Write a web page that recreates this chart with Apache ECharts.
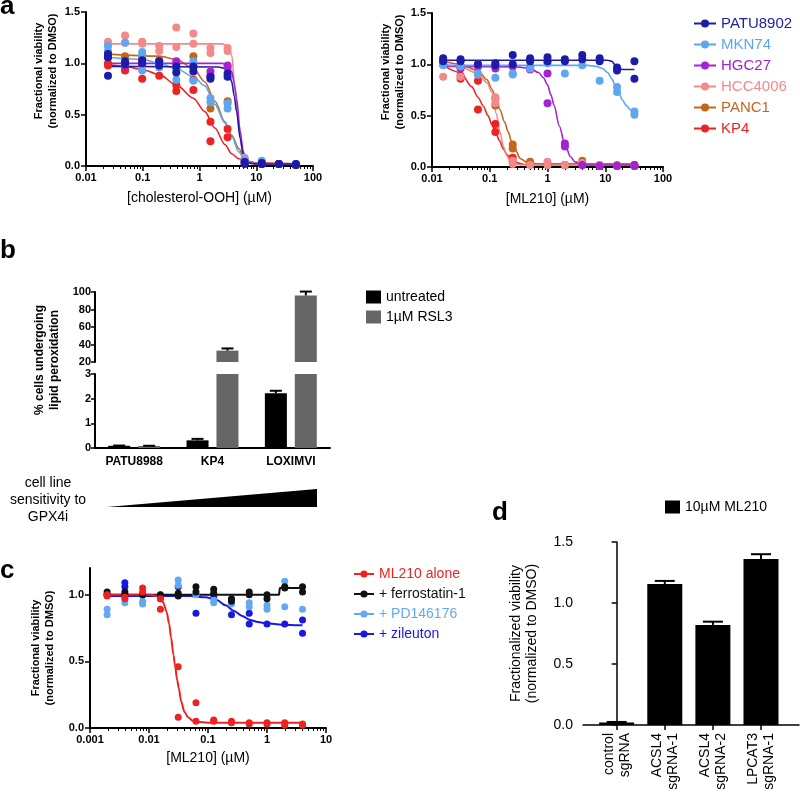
<!DOCTYPE html>
<html><head><meta charset="utf-8">
<script src="https://cdn.jsdelivr.net/npm/echarts@6/dist/echarts.min.js"></script>
<style>html,body{margin:0;padding:0;background:#fff}#c{width:800px;height:795px}</style>
</head><body><div id="c"></div>
<script>
// ---------------- DATA ----------------
const cellLines = ['PATU8902','MKN74','HGC27','HCC4006','PANC1','KP4'];
const cholDoses = [0.0244,0.0488,0.0977,0.195,0.39,0.78,1.56,3.125,6.25,12.5,25,50];
const mlDoses = [0.0156,0.03125,0.0625,0.125,0.25,0.5,1,2,4,8,16,32];
const cDoses = [0.00195,0.0039,0.0078,0.0156,0.03125,0.0625,0.125,0.25,0.5,1,2,4];

// panel a, cholesterol-OOH: replicate values per dose
const cholPATU8902 = [[1.09,1.06,0.88],[1.02,0.99],[1.03,1.0],[1.02,0.98],[0.97,0.91],[0.97,0.92],[0.87,0.85],[0.90,0.87],[0.04,0.02],[0.03,0.02],[0.02,0.02],[0.02,0.01]];
const cholMKN74 = [[1.17,1.12],[1.20,1.0],[1.11,1.08,0.93],[1.02,0.96],[0.95,0.84],[1.02,0.83],[0.66,0.62],[0.61,0.56],[0.06,0.03],[0.05,0.03],[0.02],[0.02]];
const cholHGC27 = [[1.10,1.06],[1.0,0.98],[1.0,0.99],[1.0],[1.02,0.99],[0.97,0.96],[0.92,0.88],[0.98,0.96],[0.05,0.03],[0.02],[0.02],[0.01]];
const cholHCC4006 = [[1.21,1.18],[1.27,1.20],[1.21,1.19],[1.17,1.12],[1.35,1.16],[1.29,1.19],[1.15,1.10],[1.15,1.12],[0.08,0.05],[0.03],[0.02],[0.02]];
const cholPANC1 = [[1.08],[1.07],[1.05],[1.03],[0.95],[1.07],[0.56],[0.63],[0.05],[0.02],[0.02],[0.01]];
const cholKP4 = [[1.00,0.98],[0.94,0.93],[0.85],[0.88],[0.79,0.73],[0.84,0.74],[0.43,0.24],[0.36,0.28],[0.03],[0.02],[0.02],[0.01]];

const cholFitPATU8902 = [[0.0244,0.97],[2.2,0.965],[2.8,0.95],[3.3,0.9],[3.7,0.82],[4.1,0.68],[4.5,0.53],[5.2,0.27],[5.9,0.11],[6.6,0.05],[7.5,0.03],[10,0.02],[50,0.02]];
const cholFitMKN74 = [[0.0244,1.06],[0.1,1.04],[0.195,1.0],[0.39,0.95],[0.78,0.87],[1.24,0.78],[1.87,0.6],[2.8,0.42],[3.7,0.29],[4.9,0.14],[6.25,0.06],[8,0.025],[12,0.02],[50,0.02]];
const cholFitHGC27 = [[0.0244,1.0],[2.5,1.0],[3.2,0.98],[3.7,0.92],[4.1,0.8],[4.5,0.66],[5.2,0.34],[5.9,0.14],[6.6,0.06],[7.5,0.03],[10,0.02],[50,0.02]];
const cholFitHCC4006 = [[0.0244,1.19],[2.5,1.19],[3.1,1.17],[3.7,1.08],[4.2,0.76],[4.9,0.43],[5.6,0.17],[6.25,0.08],[7.2,0.04],[9,0.025],[50,0.02]];
const cholFitPANC1 = [[0.0244,1.09],[0.195,1.07],[0.39,1.04],[0.78,0.95],[1.24,0.82],[1.87,0.63],[2.8,0.43],[3.7,0.30],[4.9,0.17],[6.25,0.08],[7.5,0.045],[9.5,0.03],[14,0.02],[50,0.02]];
const cholFitKP4 = [[0.0244,0.99],[0.0488,0.97],[0.0977,0.94],[0.195,0.89],[0.39,0.79],[0.78,0.66],[1.24,0.53],[1.87,0.37],[2.8,0.21],[3.7,0.12],[4.9,0.07],[7.2,0.04],[10,0.03],[50,0.02]];

// panel a, ML210
const mlPATU8902 = [[1.06,1.03],[1.05,1.03],[1.00],[1.01,0.99],[1.09,1.00],[1.06,1.03],[1.07,1.03],[1.05,1.03],[1.09,1.05],[1.06,1.03],[0.97,0.94],[1.03,0.86]];
const mlMKN74 = [[1.00,0.99],[0.98],[0.91,0.90],[0.87],[0.91,0.90],[0.96],[1.01],[0.91],[0.99],[0.84],[0.78,0.73],[0.54,0.51]];
const mlHGC27 = [[1.00],[0.96],[0.98],[0.96],[0.98],[0.97,0.95],[0.91,0.62],[0.23,0.20],[0.02],[0.01],[0.01],[0.02,0.01]];
const mlHCC4006 = [[0.88],[0.88],[0.90],[0.68,0.62],[0.06,0.03],[0.02],[0.05,0.02],[0.02],[0.04],[0.02],[0.01],[0.01]];
const mlPANC1 = [[1.02],[0.97],[1.00],[0.67,0.60],[0.22,0.18],[0.05],[0.03],[0.02],[0.06],[0.02],[0.02],[0.02]];
const mlKP4 = [[1.00],[0.89,0.86],[0.84,0.56],[0.42,0.34],[0.09,0.05],[0.03],[0.02],[0.02],[0.02],[0.01],[0.01],[0.01]];

const mlFitPATU8902 = [[0.0156,1.04],[11,1.04],[13,1.03],[14.5,1.0],[16,0.97],[18,0.955],[21,0.95],[32,0.95]];
const mlFitMKN74 = [[0.0156,0.99],[5,0.99],[7,0.98],[9,0.96],[11,0.92],[13,0.86],[15,0.79],[17,0.73],[20,0.65],[23,0.6],[27,0.56],[32,0.535]];
const mlFitHGC27 = [[0.0156,0.98],[0.3,0.975],[0.5,0.96],[0.7,0.92],[0.85,0.87],[1,0.8],[1.15,0.7],[1.3,0.6],[1.6,0.4],[2,0.22],[2.5,0.1],[3,0.05],[4,0.025],[6,0.02],[32,0.02]];
const mlFitHCC4006 = [[0.0156,1.0],[0.03,0.98],[0.0625,0.91],[0.09,0.82],[0.108,0.73],[0.13,0.52],[0.15,0.34],[0.175,0.19],[0.197,0.11],[0.23,0.05],[0.27,0.03],[0.35,0.02],[32,0.02]];
const mlFitPANC1 = [[0.0156,1.03],[0.031,1.0],[0.0625,0.94],[0.09,0.85],[0.108,0.76],[0.13,0.66],[0.15,0.56],[0.18,0.44],[0.21,0.34],[0.24,0.24],[0.27,0.18],[0.34,0.08],[0.46,0.04],[0.7,0.03],[32,0.03]];
const mlFitKP4 = [[0.0156,0.99],[0.031,0.92],[0.049,0.78],[0.0625,0.68],[0.078,0.59],[0.093,0.5],[0.11,0.41],[0.125,0.34],[0.15,0.25],[0.17,0.18],[0.2,0.12],[0.24,0.07],[0.3,0.04],[0.4,0.025],[0.6,0.02],[32,0.02]];

// panel b
const bCategories = ['PATU8988','KP4','LOXIMVI'];
const bUntreated = [0.09, 0.31, 2.22];
const bUntreatedErr = [0.01, 0.06, 0.1];
const bRSL3 = [0.08, 33, 96];
const bRSL3Err = [0.01, 2.5, 4.5];
const bTopTicks = ['20','40','60','80','100'];
const bBottomTicks = ['0','1','2','3'];

// panel c
const cSeriesNames = ['ML210 alone','+ ferrostatin-1','+ PD146176','+ zileuton'];
const cML210 = [[1.0,0.99],[0.98,0.97],[1.05,1.02],[0.97,0.89],[0.46,0.08],[0.19,0.05],[0.06,0.05],[0.05,0.04],[0.04,0.03],[0.04,0.03],[0.04,0.02],[0.03,0.02]];
const cFerro = [[1.02,1.0],[1.02,1.0],[1.0],[1.0],[1.01,0.99],[1.06,1.02],[1.04,1.01],[0.97,0.95],[1.02,1.0],[1.0,0.97],[1.06,1.05],[1.06,1.02]];
const cPD = [[0.89,0.85],[0.94],[0.95,0.93],[1.0],[1.11,1.07],[1.0],[0.96,0.94],[0.93],[0.94,0.91],[0.92,0.89],[1.1,0.91],[0.89]];
const cZileuton = [[1.0],[1.09,1.06],[1.0],[0.97],[1.06],[0.86],[0.98],[0.85],[0.86,0.78],[0.78],[0.78],[0.81,0.71]];
const cFitML210 = [[0.00195,1.0],[0.0104,1.0],[0.0135,0.99],[0.0153,0.98],[0.0175,0.94],[0.0199,0.87],[0.022,0.78],[0.0236,0.68],[0.026,0.55],[0.0276,0.47],[0.03,0.36],[0.032,0.3],[0.035,0.2],[0.04,0.12],[0.046,0.08],[0.055,0.055],[0.07,0.045],[0.1,0.04],[4,0.04]];
const cFitFerro = [[0.00195,1.0],[1.6,1.0],[1.65,1.05],[4,1.05]];
const cFitZileuton = [[0.00195,0.99],[0.05,0.99],[0.09,0.98],[0.14,0.96],[0.2,0.92],[0.27,0.88],[0.38,0.84],[0.52,0.81],[0.7,0.795],[1,0.785],[1.8,0.775],[4,0.77]];

// panel d
const dCategories = ['control\nsgRNA','ACSL4\nsgRNA-1','ACSL4\nsgRNA-2','LPCAT3\nsgRNA-1'];
const dValues = [0.02, 1.156, 0.82, 1.36];
const dErr = [0.005, 0.025, 0.027, 0.04];

// tick labels
const aTickLabels = ['0.01','0.1','1','10','100'];
const cTickLabels = ['0.001','0.01','0.1','1','10'];
const viabTicks = ['0.0','0.5','1.0','1.5'];

// ---------------- STYLE ----------------
const FONT = "'Liberation Sans', Arial, sans-serif";
const lineColors = ['#1c1ca8','#5ea7ee','#a322d2','#f28a8a','#c4661a','#ee2222'];
const cColors = ['#ee2222','#111111','#63a8f0','#1818e0'];

const chart = echarts.init(document.getElementById('c'), null, {renderer:'canvas'});

function pts(doses, reps) {
  const out = [];
  reps.forEach((vals, i) => vals.forEach(v => out.push([doses[i], v])));
  return out;
}
function logXAxis(grid, min, max, labels, name, nameGap) {
  return {
    type:'log', gridIndex:grid, min:min, max:max, logBase:10,
    axisLine:{show:true, lineStyle:{color:'#000', width:2}},
    axisTick:{show:true, length:5, lineStyle:{color:'#000', width:1.5}},
    minorTick:{show:true, splitNumber:9, length:3, lineStyle:{color:'#000', width:1}},
    axisLabel:{color:'#000', fontSize:11, fontWeight:'bold', fontFamily:FONT, margin:6,
      formatter:(v) => labels[Math.round(Math.log10(v) - Math.log10(min))]},
    splitLine:{show:false},
    name:name, nameLocation:'middle', nameGap:nameGap,
    nameTextStyle:{color:'#000', fontSize:14, fontFamily:FONT}
  };
}
function viabYAxis(grid, nameGap, shiftPad) {
  return {
    type:'value', gridIndex:grid, min:0, max:1.5, interval:0.5,
    axisLine:{show:true, lineStyle:{color:'#000', width:2}},
    axisTick:{show:true, length:5, lineStyle:{color:'#000', width:1.5}},
    axisLabel:{color:'#000', fontSize:11, fontWeight:'bold', fontFamily:FONT, margin:6,
      formatter:(v, i) => viabTicks[Math.round(v / 0.5)]},
    splitLine:{show:false},
    name:'Fractional viability\n(normalized to DMSO)', nameLocation:'middle', nameGap:nameGap,
    nameTextStyle:{color:'#000', fontSize:11, fontWeight:'bold', fontFamily:FONT, lineHeight:14, padding:[0,0,0,shiftPad]}
  };
}
function errRender(offset, capHalf) {
  return function(params, api) {
    const x0 = api.value(0), v = api.value(1), e = api.value(2);
    const c0 = api.coord([x0, v]);
    const c1 = api.coord([x0, v + e]);
    const x = c0[0] + offset;
    return {type:'group', children:[
      {type:'line', shape:{x1:x, y1:c0[1], x2:x, y2:c1[1]}, style:{stroke:'#000', lineWidth:2}},
      {type:'line', shape:{x1:x-capHalf, y1:c1[1], x2:x+capHalf, y2:c1[1]}, style:{stroke:'#000', lineWidth:2}}
    ]};
  };
}

const cholPtsList = [cholPATU8902, cholMKN74, cholHGC27, cholHCC4006, cholPANC1, cholKP4];
const cholFitList = [cholFitPATU8902, cholFitMKN74, cholFitHGC27, cholFitHCC4006, cholFitPANC1, cholFitKP4];
const mlPtsList = [mlPATU8902, mlMKN74, mlHGC27, mlHCC4006, mlPANC1, mlKP4];
const mlFitList = [mlFitPATU8902, mlFitMKN74, mlFitHGC27, mlFitHCC4006, mlFitPANC1, mlFitKP4];

const series = [];
// panel a (order reversed so PATU8902 draws on top)
[[0, cholPtsList, cholFitList, cholDoses], [1, mlPtsList, mlFitList, mlDoses]].forEach(([g, ptsList, fitList, doses]) => {
  for (let k = cellLines.length - 1; k >= 0; k--) {
    series.push({type:'line', name:cellLines[k], xAxisIndex:g, yAxisIndex:g, data:fitList[k],
      smooth:0.3, smoothMonotone:'x', symbol:'circle', showSymbol:false, symbolSize:8,
      lineStyle:{color:lineColors[k], width:1.6}, itemStyle:{color:lineColors[k]}, silent:true, z:2});
    series.push({type:'scatter', name:cellLines[k] + ' pts', xAxisIndex:g, yAxisIndex:g,
      data:pts(doses, ptsList[k]), symbolSize:8, itemStyle:{color:lineColors[k], opacity:1}, silent:true, z:3});
  }
});

// panel b
[2, 3].forEach(g => {
  series.push({type:'bar', name:'untreated', xAxisIndex:g, yAxisIndex:g, data:bUntreated,
    barWidth:22, barGap:'36%', itemStyle:{color:'#000'}, clip:true, silent:true});
  series.push({type:'bar', name:'1µM RSL3', xAxisIndex:g, yAxisIndex:g, data:bRSL3,
    barWidth:22, barGap:'36%', itemStyle:{color:'#666'}, clip:true, silent:true});
});
series.push({type:'custom', xAxisIndex:2, yAxisIndex:2, clip:false, silent:true, z:5,
  renderItem:errRender(15, 6),
  data:bRSL3.map((v, i) => [i, v, bRSL3Err[i]]).filter(d => d[1] >= 20)});
series.push({type:'custom', xAxisIndex:3, yAxisIndex:3, clip:true, silent:true, z:5,
  renderItem:errRender(-15, 6), data:bUntreated.map((v, i) => [i, v, bUntreatedErr[i]])});
series.push({type:'custom', xAxisIndex:3, yAxisIndex:3, clip:true, silent:true, z:5,
  renderItem:errRender(15, 6), data:bRSL3.map((v, i) => [i, v, bRSL3Err[i]]).filter(d => d[1] < 3)});

// panel c
const cPtsList = [cML210, cFerro, cPD, cZileuton];
const cFitList = [cFitML210, cFitFerro, [], cFitZileuton];
[3, 2, 1, 0].forEach(k => {
  series.push({type:'line', name:cSeriesNames[k], xAxisIndex:4, yAxisIndex:4, data:cFitList[k],
    smooth: k === 1 ? false : 0.3, smoothMonotone:'x', symbol:'circle', showSymbol:false, symbolSize:7,
    lineStyle:{color:cColors[k], width:2}, itemStyle:{color:cColors[k]}, silent:true, z:2});
  series.push({type:'scatter', name:cSeriesNames[k] + ' pts', xAxisIndex:4, yAxisIndex:4,
    data:pts(cDoses, cPtsList[k]), symbolSize:7, itemStyle:{color:cColors[k], opacity:1}, silent:true, z:3});
});

// panel d
series.push({type:'bar', name:'10µM ML210', xAxisIndex:5, yAxisIndex:5,
  data:dValues.map((v, i) => [i, v]), barWidth:35, itemStyle:{color:'#000'}, silent:true});
series.push({type:'custom', xAxisIndex:5, yAxisIndex:5, silent:true, z:5,
  renderItem:errRender(0, 10), data:dValues.map((v, i) => [i, v, dErr[i]])});

const option = {
  animation:false,
  backgroundColor:'#fff',
  textStyle:{fontFamily:FONT},
  grid:[
    {left:86, top:12, width:227, height:154},
    {left:432, top:13, width:231, height:154},
    {left:95, top:292, width:235, height:70},
    {left:95, top:374, width:235, height:74},
    {left:90, top:568, width:236, height:160},
    {left:583, top:542, width:216, height:183}
  ],
  xAxis:[
    logXAxis(0, 0.01, 100, aTickLabels, '[cholesterol-OOH] (µM)', 25),
    logXAxis(1, 0.01, 100, aTickLabels, '[ML210] (µM)', 25),
    {type:'category', gridIndex:2, data:bCategories, show:false},
    {type:'category', gridIndex:3, data:bCategories,
      axisLine:{lineStyle:{color:'#000', width:2}},
      axisTick:{alignWithLabel:true, length:4, lineStyle:{color:'#000', width:1.5}},
      axisLabel:{color:'#000', fontSize:12, fontWeight:'bold', fontFamily:FONT, margin:8}},
    logXAxis(4, 0.001, 10, cTickLabels, '[ML210] (µM)', 23),
    {type:'value', gridIndex:5, min:-0.7, max:3.79,
      axisLine:{lineStyle:{color:'#000', width:1.5}},
      axisTick:{show:true, length:5, customValues:[0,1,2,3], lineStyle:{color:'#000', width:1.5}},
      axisLabel:{customValues:[0,1,2,3], rotate:90, color:'#000', fontSize:14, lineHeight:16, fontFamily:FONT, margin:8,
        formatter:(v) => dCategories[Math.round(v)]},
      splitLine:{show:false}}
  ],
  yAxis:[
    viabYAxis(0, 26, 36),
    viabYAxis(1, 25, 36),
    {type:'value', gridIndex:2, min:20, max:100, interval:20,
      axisLine:{show:true, lineStyle:{color:'#000', width:2}},
      axisTick:{show:true, length:4, lineStyle:{color:'#000', width:1.5}},
      axisLabel:{color:'#000', fontSize:11, fontWeight:'bold', fontFamily:FONT, margin:4,
        formatter:(v) => bTopTicks[Math.round((v - 20) / 20)]},
      splitLine:{show:false}},
    {type:'value', gridIndex:3, min:0, max:3, interval:1,
      axisLine:{show:true, lineStyle:{color:'#000', width:2}},
      axisTick:{show:true, length:4, lineStyle:{color:'#000', width:1.5}},
      axisLabel:{color:'#000', fontSize:11, fontWeight:'bold', fontFamily:FONT, margin:4,
        formatter:(v) => bBottomTicks[Math.round(v)]},
      splitLine:{show:false},
      name:'% cells undergoing\nlipid peroxidation', nameLocation:'middle', nameGap:33,
      nameTextStyle:{color:'#000', fontSize:12, fontWeight:'bold', fontFamily:FONT, lineHeight:15, padding:[0,0,0,102]}},
    {type:'value', gridIndex:4, min:0, max:1.2,
      axisLine:{show:true, lineStyle:{color:'#000', width:2}},
      axisTick:{show:true, length:5, customValues:[0,0.5,1], lineStyle:{color:'#000', width:1.5}},
      axisLabel:{customValues:[0,0.5,1], color:'#000', fontSize:11, fontWeight:'bold', fontFamily:FONT, margin:6,
        formatter:(v) => viabTicks[Math.round(v / 0.5)]},
      splitLine:{show:false},
      name:'Fractional viability\n(normalized to DMSO)', nameLocation:'middle', nameGap:33,
      nameTextStyle:{color:'#000', fontSize:11, fontWeight:'bold', fontFamily:FONT, lineHeight:14}},
    {type:'value', gridIndex:5, min:0, max:1.5, interval:0.5,
      axisLine:{show:true, lineStyle:{color:'#000', width:1.5}},
      axisTick:{show:true, length:5, lineStyle:{color:'#000', width:1.5}},
      axisLabel:{color:'#000', fontSize:14, fontFamily:FONT, margin:10,
        formatter:(v) => viabTicks[Math.round(v / 0.5)]},
      splitLine:{show:false},
      name:'Fractionalized viability\n(normalized to DMSO)', nameLocation:'middle', nameGap:43,
      nameTextStyle:{color:'#000', fontSize:14, fontFamily:FONT, lineHeight:16}}
  ],
  legend:[
    {orient:'vertical', left:688, top:11, itemWidth:22, itemHeight:10, itemGap:6,
      textStyle:{fontSize:15, fontFamily:FONT},
      data:cellLines.map((n, k) => ({name:n, textStyle:{color:lineColors[k]}})), selectedMode:false},
    {orient:'vertical', left:361, top:285, itemWidth:15, itemHeight:13, itemGap:6, icon:'rect',
      textStyle:{fontSize:14, fontFamily:FONT, color:'#000'},
      data:['untreated','1µM RSL3'], selectedMode:false},
    {orient:'vertical', left:348, top:562, itemWidth:20, itemHeight:9, itemGap:6,
      textStyle:{fontSize:14, fontFamily:FONT},
      data:cSeriesNames.map((n, k) => ({name:n, textStyle:{color:cColors[k]}})), selectedMode:false},
    {orient:'vertical', left:660, top:495, itemWidth:15, itemHeight:13, icon:'rect',
      textStyle:{fontSize:14, fontFamily:FONT, color:'#000'},
      data:['10µM ML210'], selectedMode:false}
  ],
  graphic:[
    {type:'text', x:0, y:7, style:{text:'a', font:'bold 26px ' + FONT, fill:'#000', verticalAlign:'middle'}},
    {type:'text', x:0, y:251, style:{text:'b', font:'bold 26px ' + FONT, fill:'#000', verticalAlign:'middle'}},
    {type:'text', x:0, y:571, style:{text:'c', font:'bold 26px ' + FONT, fill:'#000', verticalAlign:'middle'}},
    {type:'text', x:492, y:513, style:{text:'d', font:'bold 26px ' + FONT, fill:'#000', verticalAlign:'middle'}},
    {type:'text', x:48, y:500, style:{text:'cell line\nsensitivity to\nGPX4i', font:'14px ' + FONT, fill:'#000',
      align:'center', verticalAlign:'middle', lineHeight:17}},
    {type:'polygon', shape:{points:[[107,507],[317,507],[317,489]]}, style:{fill:'#000'}}
  ],
  series:series
};
chart.setOption(option);
</script></body></html>
